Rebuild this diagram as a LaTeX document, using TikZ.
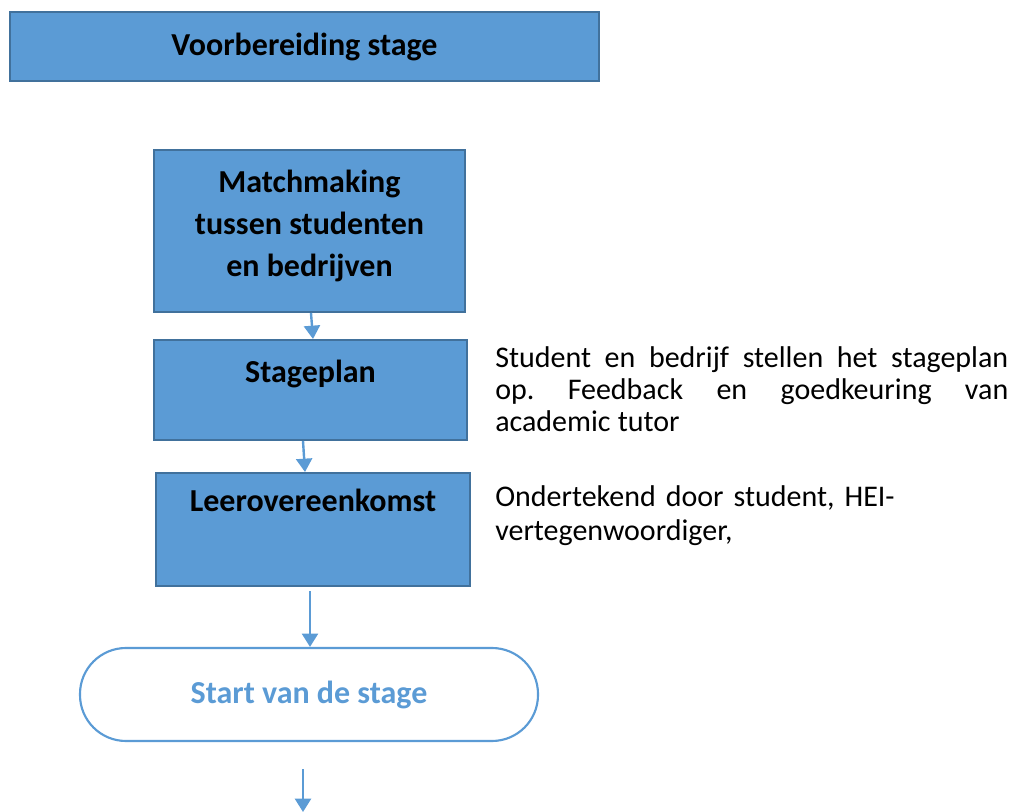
\documentclass[tikz,border=0pt]{standalone}
\usepackage{fontspec}
\setmainfont{Carlito}
\usetikzlibrary{arrows.meta,calc}

\definecolor{boxblue}{HTML}{5B9BD5}
\definecolor{boxedge}{HTML}{41719C}
\hyphenpenalty=10000

\begin{document}
\begin{tikzpicture}[x=0.75pt,y=-0.75pt,
  >={Triangle[width=12pt,length=10pt]},
  blok/.style={draw=boxedge,fill=boxblue,line width=1.5pt,inner sep=0pt,font=\bfseries\fontsize{24}{31.5}\selectfont,align=center},
  eind/.style={draw=boxblue,line width=1.6pt,rounded corners=34.5pt,inner sep=0pt,text=boxblue,font=\bfseries\fontsize{24}{28}\selectfont},
  uitleg/.style={inner sep=0pt,anchor=north west,font=\fontsize{22.5}{24}\selectfont},
  pijl/.style={->,draw=boxblue,line width=1.8pt}]

\useasboundingbox (0,0) rectangle (1013,812);

\node[blok,minimum width=441.75pt,minimum height=51.75pt]   (prep)  at (304.5,46.5)  {Voorbereiding stage};
\node[blok,minimum width=233.25pt,minimum height=121.5pt,text depth=12pt]   (match) at (309.5,231)   {Matchmaking\\tussen studenten\\en bedrijven};
\node[blok,minimum width=234.75pt,text height=32.25pt,text depth=42.75pt] (plan) at (310.5,390) {Stageplan};
\node[blok,minimum width=235.5pt,text height=28.5pt,text depth=56.25pt]   (leer) at (313,529.5) {Leerovereenkomst};
\node[eind,minimum width=343.5pt,minimum height=69.75pt]    (start) at (309,694.5)   {Start van de stage};

\node[uitleg,text width=384.75pt,align=justify] (plantekst) at (495,346) {\spaceskip=0.24em plus 1em\relax\xspaceskip=0.24em plus 1em\relax Student en bedrijf stellen het stageplan op. Feedback en goedkeuring van academic tutor};
\node[uitleg,text width=300pt,align=left,font=\fontsize{22.5}{26}\selectfont] (leertekst) at (495,485) {Ondertekend door student, HEI-vertegenwoordiger,};

\coordinate (verder) at (303,812);

\draw[pijl] ($(match.south)+(1.5,0)$) -- ($(plan.north)+(2.5,0)$);
\draw[pijl] ($(plan.south)+(-7.5,0)$) -- ($(leer.north)+(-8,0)$);
\draw[pijl] ($(leer.south)+(-3,4)$) -- ($(start.north)+(1,0)$);
\draw[pijl] ($(start.south)+(-6,27)$) -- (verder);
\end{tikzpicture}
\end{document}
